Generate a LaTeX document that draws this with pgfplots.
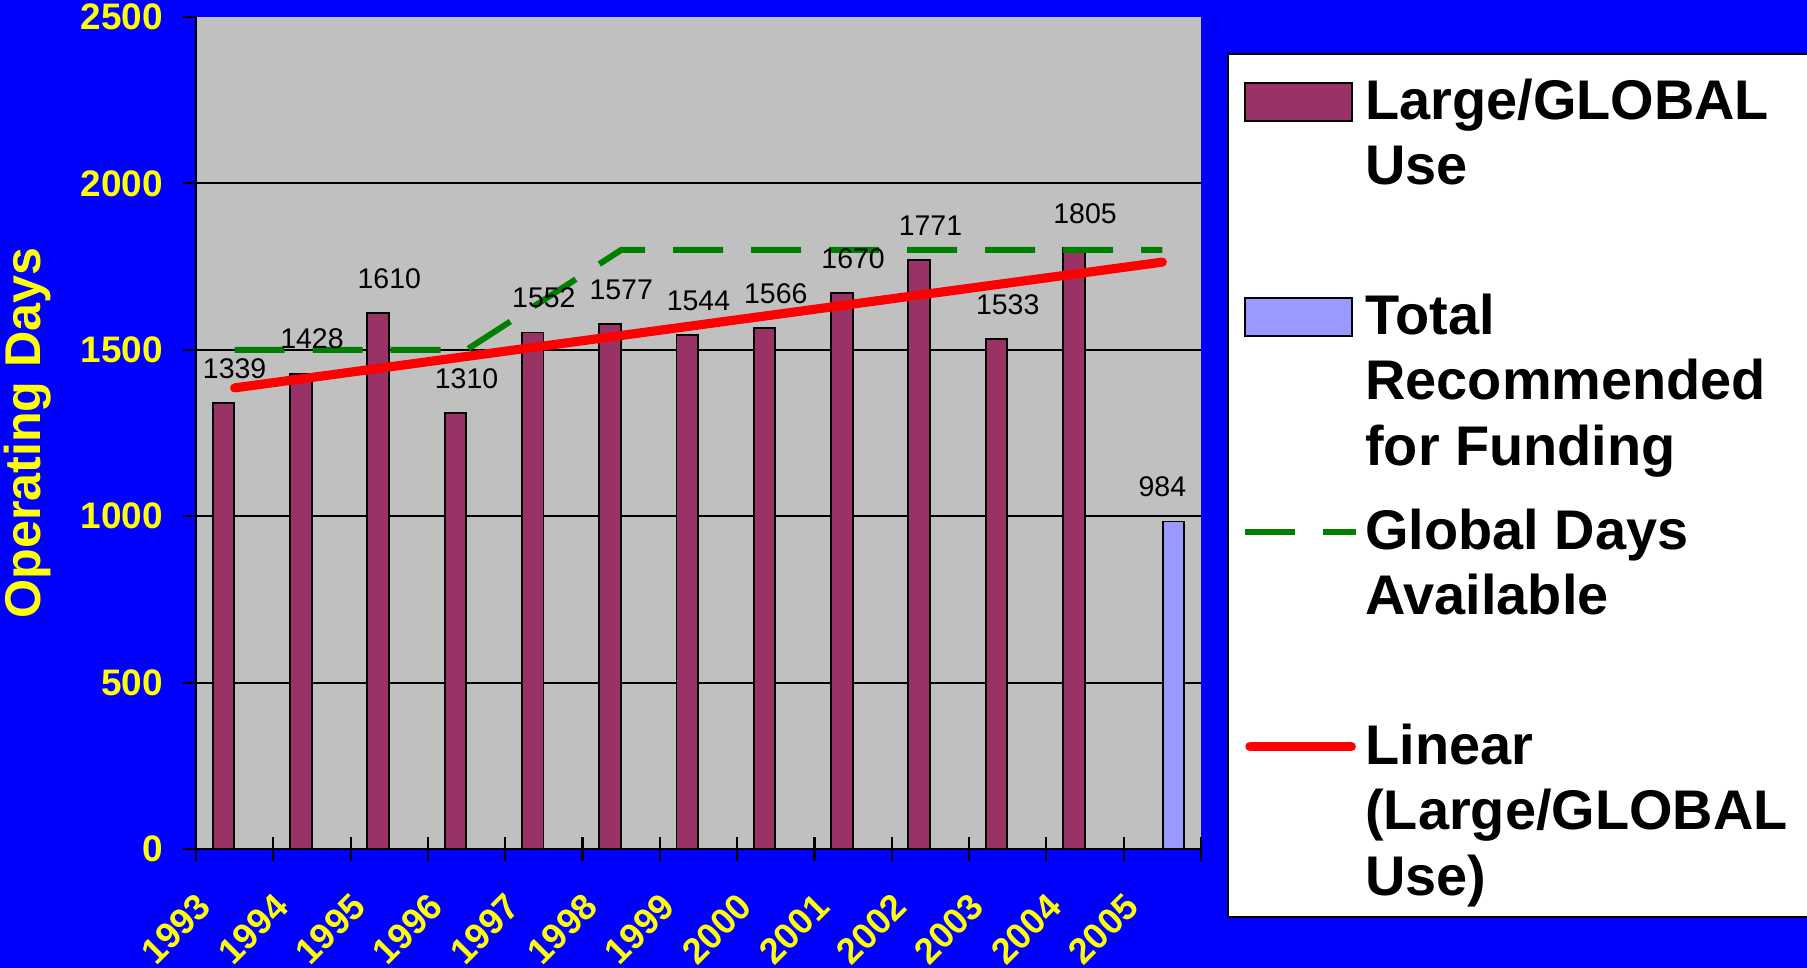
\documentclass[border=0pt]{standalone}
\usepackage{fontspec}
\setmainfont{Liberation Sans}
\usepackage{pgfplots}
\pgfplotsset{compat=1.18}

\definecolor{bgblue}{RGB}{0,0,255}
\definecolor{plotgray}{RGB}{192,192,192}
\definecolor{maroonbar}{RGB}{153,51,102}
\definecolor{lilacbar}{RGB}{153,153,255}
\definecolor{ylw}{RGB}{255,255,0}
\definecolor{dgreen}{RGB}{0,128,0}

% legend text: fixed-height box, first line on the row baseline
\newcommand{\legtext}[2]{\parbox[t][#1][t]{45mm}{\fontsize{15.9}{18.7}\selectfont\bfseries\strut #2}}

\begin{document}
\begin{tikzpicture}
\fill[bgblue] (-19.6mm,-11.9mm) rectangle (161.1mm,84.9mm);
\begin{axis}[
  scale only axis,
  width=100.5mm, height=83.2mm,
  xmin=-0.5, xmax=12.5,
  ymin=0, ymax=2500,
  axis background/.style={fill=plotgray},
  axis x line*=bottom, axis y line*=left,
  axis line style={-, black, line width=0.6pt},
  tick align=outside,
  major tick length=1.3mm,
  minor tick length=2.4mm,
  xtick={0,...,12},
  xticklabels={1993,1994,1995,1996,1997,1998,1999,2000,2001,2002,2003,2004,2005},
  major x tick style={draw=none},
  minor xtick={-0.5,0.5,...,12.5},
  minor x tick style={black, line width=0.6pt, yshift=1.2mm},
  ytick={500,1000,1500,2000},
  extra y ticks={0,2500},
  extra y tick style={grid=none},
  ymajorgrids,
  major grid style={black, line width=0.6pt},
  y tick style={black, line width=0.6pt},
  /pgf/number format/assume math mode=true,
  /pgf/number format/1000 sep={},
  yticklabel style={font=\fontsize{10.5}{12}\selectfont\bfseries, text=ylw, inner sep=0pt, anchor=east, xshift=-1.96mm},
  xticklabel style={font=\fontsize{10.3}{12}\selectfont\bfseries, text=ylw, inner sep=0pt,
    xshift=-3mm, yshift=-3.8mm, rotate=45, anchor=east},
  every axis y label/.style={at={(axis description cs:-0.168,0.5)}, rotate=90, anchor=center,
    font=\fontsize{14.3}{16}\selectfont\bfseries, text=ylw},
  ylabel={Operating Days},
  legend cell align=left,
  legend style={at={(1.0256,0.9564)}, anchor=north west, draw=black, line width=0.6pt, fill=white,
    inner xsep=1.46mm, inner ysep=1.89mm, column sep=0.6mm, row sep=0pt,
    cells={anchor=base west}, nodes={inner sep=0pt, text depth=}},
]
\addplot[ybar, bar width=0.28, bar shift=-0.145, fill=maroonbar, draw=black, line width=0.55pt,
  nodes near coords,
  every node near coord/.append style={font=\fontsize{8.1}{9}\selectfont, text=black,
    anchor=south, inner sep=0pt, yshift=2.35mm},
  legend image code/.code={\draw[fill=maroonbar, draw=black, line width=0.55pt] (0mm,-0.17mm) rectangle (10.7mm,3.66mm);}]
  coordinates {(0,1339) (1,1428) (2,1610) (3,1310) (4,1552) (5,1577) (6,1544)
               (7,1566) (8,1670) (9,1771) (10,1533) (11,1805)};
\addlegendentry{\legtext{21.5mm}{Large/GLOBAL\\Use}}
\addplot[ybar, bar width=0.28, bar shift=0.145, fill=lilacbar, draw=black, line width=0.55pt,
  nodes near coords,
  every node near coord/.append style={font=\fontsize{8.1}{9}\selectfont, text=black,
    anchor=south, inner sep=0pt, yshift=2.35mm},
  legend image code/.code={\draw[fill=lilacbar, draw=black, line width=0.55pt] (0mm,-0.17mm) rectangle (10.7mm,3.66mm);}]
  coordinates {(12,984)};
\addlegendentry{\legtext{21.5mm}{Total\\Recommended\\for Funding}}
\addplot[dgreen, line width=1.7pt, dash pattern=on 5mm off 2.8mm,
  legend image code/.code={\draw[dgreen, line width=1.7pt, dash pattern=on 5mm off 2.8mm] (0mm,1.75mm) -- (11.1mm,1.75mm);}]
  coordinates {(0,1500) (1,1500) (2,1500) (3,1500) (4,1650) (5,1800) (6,1800)
               (7,1800) (8,1800) (9,1800) (10,1800) (11,1800) (12,1800)};
\addlegendentry{\legtext{21.5mm}{Global Days\\Available}}
\addplot[red, line width=2.6pt, line cap=round,
  legend image code/.code={\draw[red, line width=2.6pt, line cap=round] (0.45mm,1.75mm) -- (10.6mm,1.75mm);}]
  coordinates {(0,1385.5) (12,1763.4)};
\addlegendentry{\legtext{18mm}{Linear\\(Large/GLOBAL\\Use)}}
\end{axis}
\pgfresetboundingbox
\path[use as bounding box] (-19.6mm,-11.9mm) rectangle (161.1mm,84.9mm);
\end{tikzpicture}
\end{document}
